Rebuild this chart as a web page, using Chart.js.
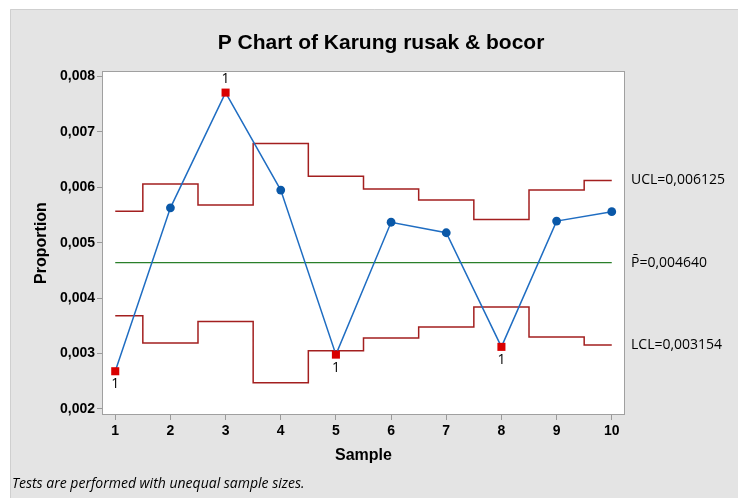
<!DOCTYPE html>
<html>
<head>
<meta charset="utf-8">
<script src="https://cdn.jsdelivr.net/npm/chart.js@4.4.1/dist/chart.umd.min.js"></script>
<style>
  html, body { margin: 0; padding: 0; background: #fff; }
  #wrap { width: 738px; height: 498px; }
</style>
</head>
<body>
<div id="wrap"><canvas id="pchart" width="738" height="498"></canvas></div>
<script>
// P chart - Karung rusak & bocor
const samples = [1, 2, 3, 4, 5, 6, 7, 8, 9, 10];
const proportion = [0.00268, 0.00563, 0.00771, 0.00595, 0.00298, 0.00537, 0.00518, 0.00312, 0.00539, 0.00556];
const ucl = [0.00557, 0.00606, 0.00568, 0.00679, 0.00620, 0.00597, 0.00577, 0.00542, 0.00595, 0.006125];
const lcl = [0.00368, 0.00319, 0.00358, 0.00247, 0.00305, 0.00328, 0.00348, 0.00384, 0.00330, 0.003154];
const pBar = 0.004640;
const failedTest1 = [1, 3, 5, 8];   // samples flagged by test 1
const yTicks = [0.002, 0.003, 0.004, 0.005, 0.006, 0.007, 0.008];

const komaFmt = (v, d) => v.toFixed(d).replace(".", ",");
const pts = arr => samples.map((s, i) => ({ x: s, y: arr[i] }));

const GREY = "#e4e4e4";

const latar = {
    id: "latar",
    beforeDraw(chart) {
        const { ctx, chartArea: a } = chart;
        ctx.save();
        ctx.fillStyle = "#fff";
        ctx.fillRect(0, 0, 738, 498);
        ctx.fillStyle = GREY;
        ctx.fillRect(10, 9, 728, 489);
        ctx.strokeStyle = "#cfcfcf";
        ctx.lineWidth = 1;
        ctx.beginPath();
        ctx.moveTo(10.5, 498); ctx.lineTo(10.5, 9.5); ctx.lineTo(738, 9.5);
        ctx.stroke();
        ctx.fillStyle = "#fff";
        ctx.fillRect(a.left, a.top, a.right - a.left, a.bottom - a.top);
        ctx.restore();
    },
    afterDraw(chart) {
        const { ctx, chartArea: a, scales } = chart;
        ctx.save();
        ctx.strokeStyle = "#a0a0a0";
        ctx.lineWidth = 1;
        ctx.strokeRect(a.left + 0.5, a.top + 0.5, a.right - a.left - 1, a.bottom - a.top - 1);

        // judul
        ctx.fillStyle = "#000";
        ctx.textAlign = "center";
        ctx.textBaseline = "middle";
        ctx.font = "bold 21px 'Liberation Sans', Arial, sans-serif";
        ctx.fillText("P Chart of Karung rusak & bocor", 381, 43);

        ctx.font = "bold 16px 'Liberation Sans', Arial, sans-serif";
        ctx.fillText("Sample", (a.left + a.right) / 2, 456);
        ctx.save();
        ctx.translate(42, (a.top + a.bottom) / 2);
        ctx.rotate(-Math.PI / 2);
        ctx.fillText("Proportion", 0, 0);
        ctx.restore();

        // label batas kendali
        const y = scales.y;
        ctx.textAlign = "left";
        ctx.font = "14px 'Open Sans', sans-serif";
        ctx.fillText("UCL=" + komaFmt(ucl[ucl.length - 1], 6), 631, y.getPixelForValue(ucl[ucl.length - 1]));
        ctx.fillText("P\u0304=" + komaFmt(pBar, 6), 631, y.getPixelForValue(pBar));
        ctx.fillText("LCL=" + komaFmt(lcl[lcl.length - 1], 6), 631, y.getPixelForValue(lcl[lcl.length - 1]));

        // tanda uji gagal
        ctx.textAlign = "center";
        failedTest1.forEach(s => {
            const i = s - 1;
            const px = scales.x.getPixelForValue(s);
            const py = y.getPixelForValue(proportion[i]);
            const atas = proportion[i] > ucl[i];
            ctx.fillText("1", px, atas ? py - 14 : py + 13);
        });

        // catatan
        ctx.textAlign = "left";
        ctx.font = "italic 14px 'Open Sans', sans-serif";
        ctx.fillText("Tests are performed with unequal sample sizes.", 12, 484);
        ctx.restore();
    }
};

const warnaTitik = samples.map(s => failedTest1.includes(s) ? "#d90000" : "#0a58a8");
const gayaTitik = samples.map(s => failedTest1.includes(s) ? "rect" : "circle");
const radiusTitik = samples.map(s => failedTest1.includes(s) ? 5.7 : 4.4);

const fontTick = { family: "'Liberation Sans', Arial", size: 14, weight: "bold" };

new Chart(document.getElementById("pchart"), {
    type: "line",
    data: {
        datasets: [
            {
                label: "Proportion",
                data: pts(proportion),
                borderColor: "#1f6dc2",
                borderWidth: 1.5,
                pointStyle: gayaTitik,
                pointRadius: radiusTitik,
                pointBackgroundColor: warnaTitik,
                pointBorderColor: warnaTitik,
                pointBorderWidth: 0,
                tension: 0
            },
            {
                label: "UCL",
                data: pts(ucl),
                stepped: "middle",
                borderColor: "#a31f1f",
                borderWidth: 1.5,
                pointRadius: 0
            },
            {
                label: "LCL",
                data: pts(lcl),
                stepped: "middle",
                borderColor: "#a31f1f",
                borderWidth: 1.5,
                pointRadius: 0
            },
            {
                label: "P",
                data: [{ x: samples[0], y: pBar }, { x: samples[samples.length - 1], y: pBar }],
                borderColor: "#2a7f2a",
                borderWidth: 1.3,
                pointRadius: 0
            }
        ]
    },
    options: {
        responsive: false,
        animation: false,
        layout: { padding: { top: 71, right: 113, left: 0, bottom: 0 } },
        plugins: { legend: { display: false }, tooltip: { enabled: false } },
        scales: {
            x: {
                type: "linear",
                min: 0.76, max: 10.24,
                afterFit: s => { s.height = 83; },
                afterBuildTicks: s => { s.ticks = samples.map(v => ({ value: v })); },
                grid: { drawOnChartArea: false, tickLength: 5, color: "#9a9a9a" },
                border: { display: false },
                ticks: { color: "#000", padding: 3, maxRotation: 0, font: fontTick }
            },
            y: {
                min: 0.00189, max: 0.0081,
                afterFit: s => { s.width = 102; },
                afterBuildTicks: s => { s.ticks = yTicks.map(v => ({ value: v })); },
                grid: { drawOnChartArea: false, tickLength: 5, color: "#9a9a9a" },
                border: { display: false },
                ticks: { color: "#000", padding: 2, font: fontTick, callback: v => komaFmt(v, 3) }
            }
        }
    },
    plugins: [latar]
});
</script>
</body>
</html>
